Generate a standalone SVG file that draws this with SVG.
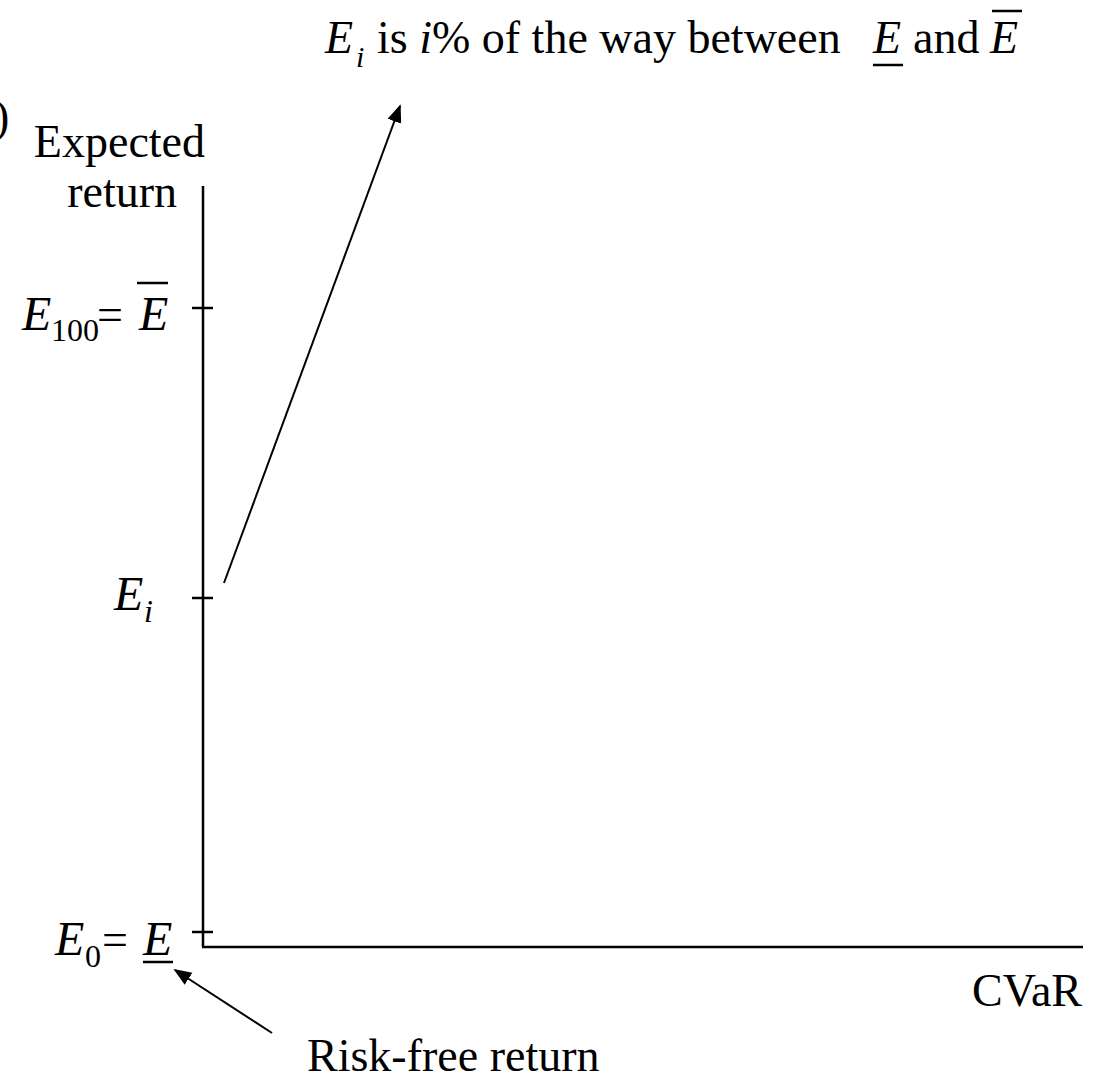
<svg xmlns="http://www.w3.org/2000/svg" width="1093" height="1078" viewBox="0 0 1093 1078">
<defs>
<style>
text{font-family:"Liberation Serif","Times New Roman",serif;fill:#000}
.t{font-size:46px}
.lab{font-size:48px;font-style:italic}
.sub{font-size:32px}
.it{font-style:italic}
.ax{stroke:#000;stroke-width:2.5;fill:none}
.ar{stroke:#000;stroke-width:2;fill:none}
</style>
<marker id="ah2" viewBox="0 0 10 10" refX="9" refY="5" markerWidth="18" markerHeight="18" markerUnits="userSpaceOnUse" orient="auto">
<path d="M0,1 L10,5 L0,9 z" fill="#000"/>
</marker>
</defs>
<g id="corner"><text x="-6" y="132" class="t" font-size="42">)</text></g>
<g id="title">
<text x="325" y="53" class="t it">E</text>
<text x="356" y="67" class="it" font-size="30">i</text>
<text x="377" y="53" class="t">is <tspan class="it">i</tspan>% of the way between</text>
<text x="873" y="53" class="t it">E</text>
<line x1="873" y1="65" x2="903" y2="65" class="ax"/>
<text x="913" y="53" class="t">and</text>
<text x="990" y="53" class="t it">E</text>
<line x1="992" y1="11" x2="1022" y2="11" class="ax"/>
</g>
<g id="axes">
<line x1="203" y1="186" x2="203" y2="947" class="ax"/>
<line x1="202" y1="947" x2="1083" y2="947" class="ax"/>
<line x1="192" y1="308" x2="213" y2="308" class="ax"/>
<line x1="192" y1="598" x2="213" y2="598" class="ax"/>
<line x1="192" y1="932" x2="213" y2="932" class="ax"/>
</g>
<g id="ylabel">
<text x="205" y="157" class="t" text-anchor="end" font-size="42">Expected</text>
<text x="177" y="207" class="t" text-anchor="end" font-size="42">return</text>
</g>
<g id="E100">
<text x="22" y="330" class="lab">E</text>
<text x="51" y="341" class="sub">100</text>
<text x="97" y="330" class="t" font-size="48">=</text>
<text x="139" y="330" class="lab">E</text>
<line x1="137" y1="283" x2="168" y2="283" class="ax"/>
</g>
<g id="Ei">
<text x="114" y="610" class="lab">E</text>
<text x="144" y="622" class="sub it">i</text>
</g>
<g id="E0">
<text x="55" y="955" class="lab">E</text>
<text x="85" y="967" class="sub">0</text>
<text x="102" y="955" class="t" font-size="48">=</text>
<text x="143" y="955" class="lab">E</text>
<line x1="143" y1="962" x2="173" y2="962" class="ax"/>
</g>
<g id="xlabel"><text x="1082" y="1006" class="t" font-size="44" text-anchor="end">CVaR</text></g>
<g id="riskfree"><text x="307" y="1071" class="t">Risk-free return</text></g>
<g id="connectors">
<line x1="224" y1="583" x2="400" y2="106" class="ar" marker-end="url(#ah2)"/>
<line x1="272" y1="1033" x2="175" y2="970" class="ar" marker-end="url(#ah2)"/>
</g>
</svg>
